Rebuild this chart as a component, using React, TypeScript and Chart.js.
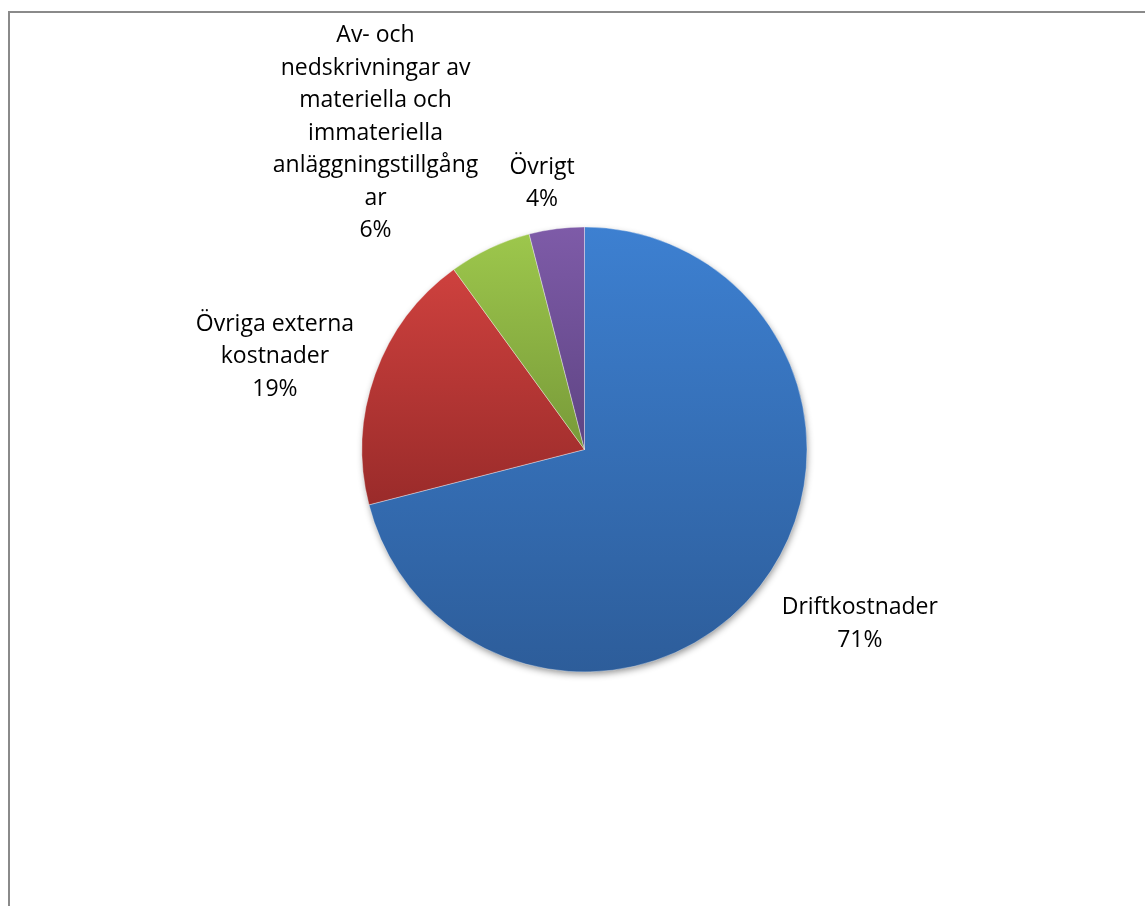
import { Chart, registerables } from 'chart.js';
import { useEffect, useRef } from 'react';

Chart.register(...registerables);

const CATEGORIES = [
  'Driftkostnader',
  'Övriga externa kostnader',
  'Av- och nedskrivningar av materiella och immateriella anläggningstillgångar',
  'Övrigt',
];
// the same names, wrapped the way the reference wraps them
const LABEL_LINES = [
  ['Driftkostnader'],
  ['Övriga externa', 'kostnader'],
  ['Av- och', 'nedskrivningar av', 'materiella och', 'immateriella', 'anläggningstillgång', 'ar'],
  ['Övrigt'],
];
const VALUES = [71, 19, 6, 4];

const TOP_COLORS = ['#3d80d1', '#ce413e', '#9dc74c', '#7e5ba8'];
const BOTTOM_COLORS = ['#2d5d9a', '#9a2b2a', '#789a39', '#5e4483'];

const FONT = "'Open Sans', sans-serif";

function sliceGradient(c: any) {
  const i = c.dataIndex;
  const chart = c.chart;
  const area = chart.chartArea;
  if (!area) return TOP_COLORS[i];
  const cx = (area.left + area.right) / 2;
  const cy = (area.top + area.bottom) / 2;
  const r = Math.min(area.right - area.left, area.bottom - area.top) / 2;
  const total = VALUES.reduce((a, b) => a + b, 0);
  const before = VALUES.slice(0, i).reduce((a, b) => a + b, 0);
  const start = -Math.PI / 2 + (2 * Math.PI * before) / total;
  const end = start + (2 * Math.PI * VALUES[i]) / total;
  const ys = [cy, cy + r * Math.sin(start), cy + r * Math.sin(end)];
  for (let k = -2; k <= 4; k++) {
    const a = -Math.PI / 2 + k * Math.PI;
    if (a > start && a < end) ys.push(cy + r * Math.sin(a));
  }
  const g = chart.ctx.createLinearGradient(0, Math.min(...ys), 0, Math.max(...ys));
  g.addColorStop(0, TOP_COLORS[i]);
  g.addColorStop(1, BOTTOM_COLORS[i]);
  return g;
}

const shadowPlugin = {
  id: 'pieShadow',
  beforeDatasetsDraw(chart: any) {
    const arc = chart.getDatasetMeta(0).data[0];
    if (!arc) return;
    const { ctx } = chart;
    ctx.save();
    ctx.shadowColor = 'rgba(0,0,0,0.45)';
    ctx.shadowBlur = 7;
    ctx.shadowOffsetX = 1;
    ctx.shadowOffsetY = 3;
    ctx.beginPath();
    ctx.arc(arc.x, arc.y, arc.outerRadius - 1, 0, Math.PI * 2);
    ctx.fillStyle = '#ffffff';
    ctx.fill();
    ctx.restore();
  },
};

const labelPlugin = {
  id: 'pieLabels',
  afterDatasetsDraw(chart: any, _args: any, opts: any) {
    const { ctx } = chart;
    const meta = chart.getDatasetMeta(0);
    const total = VALUES.reduce((a, b) => a + b, 0);
    ctx.save();
    ctx.font = `${opts.size}px ${FONT}`;
    ctx.fillStyle = '#000000';
    ctx.textAlign = 'center';
    ctx.textBaseline = 'middle';
    meta.data.forEach((arc: any, i: number) => {
      const mid = (arc.startAngle + arc.endAngle) / 2;
      const cos = Math.cos(mid);
      const sin = Math.sin(mid);
      const lines = [...LABEL_LINES[i], `${Math.round((VALUES[i] / total) * 100)}%`];
      const w = Math.max(...lines.map((l) => ctx.measureText(l).width));
      const h = lines.length * opts.lineHeight;
      const [dx, dy] = opts.nudge[i] || [0, 0];
      const bx = arc.x + (arc.outerRadius + opts.gap) * cos + (cos * w) / 2 + dx;
      const by = arc.y + (arc.outerRadius + opts.gap) * sin + (sin * h) / 2 + dy;
      lines.forEach((l, k) => {
        ctx.fillText(l, bx, by - h / 2 + opts.lineHeight * (k + 0.5));
      });
    });
    ctx.restore();
  },
};

export default function App() {
  const canvasRef = useRef<HTMLCanvasElement>(null);

  useEffect(() => {
    if (!canvasRef.current) return;
    const chart = new Chart(canvasRef.current, {
      type: 'pie',
      data: {
        labels: CATEGORIES,
        datasets: [
          {
            data: VALUES,
            backgroundColor: sliceGradient,
            borderColor: 'rgba(255,255,255,0.35)',
            borderWidth: 1,
          },
        ],
      },
      options: {
        responsive: true,
        maintainAspectRatio: false,
        animation: false,
        layout: { padding: { left: 361.5, right: 337.5, top: 226.5, bottom: 233.5 } },
        plugins: {
          legend: { display: false },
          tooltip: { enabled: false },
          pieLabels: {
            size: 23,
            lineHeight: 32.5,
            gap: 20,
            nudge: [
              [22, 6],
              [-7, 6],
              [-62, 6],
              [-8, 7],
            ],
          },
        } as any,
      },
      plugins: [shadowPlugin, labelPlugin],
    });
    return () => {
      chart.destroy();
    };
  }, []);

  return (
    <div
      style={{
        position: 'fixed',
        left: 0,
        top: 0,
        width: 1145,
        height: 906,
        overflow: 'hidden',
        background: '#ffffff',
      }}
    >
      <div
        style={{
          position: 'absolute',
          left: 8,
          top: 11,
          width: 1200,
          height: 1000,
          border: '2px solid #8a8a8a',
        }}
      />
      <div style={{ position: 'absolute', left: 0, top: 0, width: 1145, height: 906 }}>
        <canvas ref={canvasRef} />
      </div>
    </div>
  );
}
